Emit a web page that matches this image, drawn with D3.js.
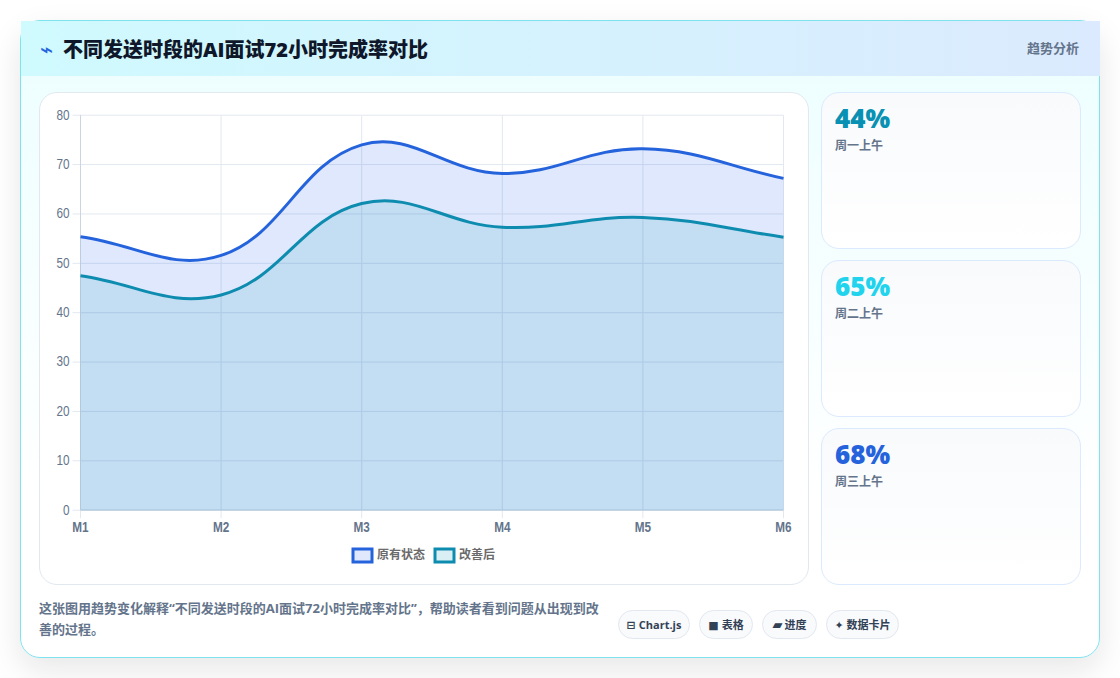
<!DOCTYPE html>
<html lang="zh">
<head>
<meta charset="utf-8">
<script src="https://cdn.jsdelivr.net/npm/d3@7"></script>
<style>
*{box-sizing:border-box}
html,body{margin:0;padding:0;width:1120px;height:678px;overflow:hidden;background:#fff;font-family:"Open Sans","Noto Sans CJK SC",sans-serif}
.card{position:absolute;left:20px;top:20px;width:1080px;height:638px;border:1px solid #7fe3ee;border-radius:20px;
 background:linear-gradient(180deg,#ecfeff 0%,#ffffff 75%);box-shadow:0 12px 32px rgba(15,23,42,.10)}
.head{position:absolute;left:0;top:0;width:1079px;height:55px;background:linear-gradient(90deg,#cffafe,#dbeafe)}
.title{position:absolute;left:42px;top:0;line-height:57px;font-size:20px;font-weight:800;color:#0f172a;white-space:nowrap}
.bolt{position:absolute;left:19px;top:0;line-height:58px;font-size:22px;color:#2563dc;font-family:"DejaVu Sans"}
.tag{position:absolute;right:21px;top:0;line-height:54px;font-size:13px;font-weight:700;color:#64748b}
.panel{position:absolute;left:18px;top:71px;width:770px;height:493px;background:#fff;border:1px solid #e2e8f0;border-radius:18px}
.stat{position:absolute;left:800px;width:260px;height:157px;border:1px solid #dbeafe;border-radius:18px;background:linear-gradient(180deg,#f8fafc,#ffffff)}
.stat b{position:absolute;left:13px;top:7px;font:800 26px/36px "Open Sans",sans-serif}
.stat span{position:absolute;left:13px;top:44px;font-size:12px;line-height:18px;font-weight:700;color:#64748b}
.note{position:absolute;left:18px;top:577px;width:565px;font-size:13px;line-height:21px;font-weight:700;color:#64748b}
.pills{position:absolute;left:597px;top:589px;display:flex;gap:9px}
.pill{height:29px;border:1px solid #e2e8f0;border-radius:15px;background:#f8fafc;font-size:11px;font-weight:700;line-height:28px;color:#334155;white-space:nowrap;text-align:center}
.pill:nth-child(1){width:72px}.pill:nth-child(2){width:54px}.pill:nth-child(3){width:55px}.pill:nth-child(4){width:73px}
.pill i{font:normal 700 11px "DejaVu Sans";margin-right:3px}
.pill:nth-child(3) i{font-size:13px;margin-right:2px}
svg{position:absolute;left:0;top:0}
</style>
</head>
<body>
<div class="card">
  <div class="head">
    <span class="bolt" id="bolt"></span>
    <span class="title" id="title"></span>
    <span class="tag" id="tag"></span>
  </div>
  <div class="panel"></div>
  <div id="stats"></div>
  <div class="note" id="note"></div>
  <div class="pills" id="pills"></div>
</div>
<svg id="chart" width="1120" height="678"></svg>
<script>
// Chart content
const titleText = "不同发送时段的AI面试72小时完成率对比";
const tagText = "趋势分析";
const noteText = "这张图用趋势变化解释\u201C不同发送时段的AI面试72小时完成率对比\u201D\uFF0C帮助读者看到问题从出现到改善的过程。";
const months = ["M1", "M2", "M3", "M4", "M5", "M6"];
const before = [55.4, 51.6, 74.0, 68.2, 73.2, 67.2];
const after = [47.5, 43.6, 62.1, 57.3, 59.3, 55.3];
const yTicks = [0, 10, 20, 30, 40, 50, 60, 70, 80];
const statValues = ["44%", "65%", "68%"];
const statLabels = ["周一上午", "周二上午", "周三上午"];
const statColors = ["#0891b2", "#22d3ee", "#2563dc"];
const pillIcons = ["⊟", "■", "▰", "✦"];
const pillLabels = ["Chart.js", "表格", "进度", "数据卡片"];

d3.select("#bolt").text("⌁");
d3.select("#title").text(titleText);
d3.select("#tag").text(tagText);
d3.select("#note").text(noteText);

d3.select("#stats").selectAll("div").data(statValues).join("div")
  .attr("class", "stat")
  .style("top", (d, i) => (71 + i * 168) + "px")
  .each(function (d, i) {
    const s = d3.select(this);
    s.append("b").text(d).style("color", statColors[i]);
    s.append("span").text(statLabels[i]);
  });

d3.select("#pills").selectAll("div").data(pillLabels).join("div")
  .attr("class", "pill")
  .each(function (d, i) {
    const p = d3.select(this);
    p.append("i").text(pillIcons[i]);
    p.append("span").text(d);
  });

// Plot geometry
const plot = { left: 80.5, right: 783.5, top: 115.2, bottom: 510.2 };
const x = d3.scalePoint().domain(months).range([plot.left, plot.right]);
const y = d3.scaleLinear().domain([0, 80]).range([plot.bottom, plot.top]);
const svg = d3.select("#chart");

// Spline with distance-weighted tangents and tension 0.4
function tensionCurve(context) {
  const pts = [];
  return {
    lineStart() { pts.length = 0; },
    point(px, py) { pts.push([+px, +py]); },
    lineEnd() {
      const t = 0.4, cps = pts.map((p, i) => {
        const a = pts[Math.max(i - 1, 0)], b = pts[Math.min(i + 1, pts.length - 1)];
        const d1 = Math.hypot(p[0] - a[0], p[1] - a[1]), d2 = Math.hypot(b[0] - p[0], b[1] - p[1]);
        const s1 = d1 / (d1 + d2), s2 = d2 / (d1 + d2);
        return {
          prev: [p[0] - t * s1 * (b[0] - a[0]), p[1] - t * s1 * (b[1] - a[1])],
          next: [p[0] + t * s2 * (b[0] - a[0]), p[1] + t * s2 * (b[1] - a[1])]
        };
      });
      pts.forEach((p, i) => {
        if (i === 0) context.moveTo(p[0], p[1]);
        else context.bezierCurveTo(cps[i - 1].next[0], cps[i - 1].next[1], cps[i].prev[0], cps[i].prev[1], p[0], p[1]);
      });
    }
  };
}

// Grid
const grid = svg.append("g");
grid.selectAll("line.h").data(yTicks).join("line").attr("class", "h")
  .attr("x1", plot.left - 8).attr("x2", plot.right)
  .attr("y1", d => y(d)).attr("y2", d => y(d))
  .attr("stroke", "#e2e8f0").attr("stroke-width", 1);
grid.selectAll("line.v").data(months).join("line").attr("class", "v")
  .attr("x1", d => x(d)).attr("x2", d => x(d))
  .attr("y1", plot.top).attr("y2", plot.bottom + 8)
  .attr("stroke", "#e2e8f0").attr("stroke-width", 1);
grid.append("line").attr("x1", plot.left).attr("x2", plot.left)
  .attr("y1", plot.top).attr("y2", plot.bottom).attr("stroke", "#cbd5e1");
grid.append("line").attr("x1", plot.left).attr("x2", plot.right)
  .attr("y1", plot.bottom).attr("y2", plot.bottom).attr("stroke", "#cbd5e1");

// Series
const series = [
  { name: "原有状态", values: before, stroke: "#2563dc", fill: "rgba(37,99,235,0.15)", swatch: "rgba(37,99,235,0.15)" },
  { name: "改善后", values: after, stroke: "#0e8cb0", fill: "rgba(8,145,178,0.13)", swatch: "rgba(8,145,178,0.15)" }
];
const line = d3.line().x((d, i) => x(months[i])).y(d => y(d)).curve(tensionCurve);

svg.append("g").selectAll("path").data(series).join("path")
  .attr("d", d => line(d.values) + "L" + plot.right + "," + plot.bottom + "L" + plot.left + "," + plot.bottom + "Z")
  .attr("fill", d => d.fill);
svg.append("g").selectAll("path").data(series).join("path")
  .attr("d", d => line(d.values)).attr("fill", "none")
  .attr("stroke", d => d.stroke).attr("stroke-width", 3);

// Axis labels, condensed horizontally
const narrow = "Liberation Sans";
svg.append("g").selectAll("text").data(yTicks).join("text")
  .attr("transform", d => `translate(${plot.left - 11},${y(d) - 0.5}) scale(0.84,1)`)
  .attr("dy", "0.35em").attr("text-anchor", "end")
  .attr("font-family", narrow).attr("font-size", 14).attr("fill", "#64748b").text(d => d);
svg.append("g").selectAll("text").data(months).join("text")
  .attr("transform", d => `translate(${x(d)},${plot.bottom + 22}) scale(0.84,1)`)
  .attr("text-anchor", "middle")
  .attr("font-family", narrow)
  .attr("font-size", 14).attr("font-weight", 700).attr("fill", "#64748b").text(d => d);

// Legend
const legendX = [353, 435];
const legend = svg.append("g").selectAll("g").data(series).join("g")
  .attr("transform", (d, i) => `translate(${legendX[i]},549)`);
legend.append("rect").attr("width", 19).attr("height", 13)
  .attr("fill", d => d.swatch).attr("stroke", d => d.stroke).attr("stroke-width", 3);
legend.append("text").attr("x", 24).attr("y", 10).attr("font-size", 12).attr("font-weight", 700)
  .attr("font-family", "Noto Sans CJK SC").attr("fill", "#6b6b6b").text(d => d.name);
</script>
</body>
</html>
